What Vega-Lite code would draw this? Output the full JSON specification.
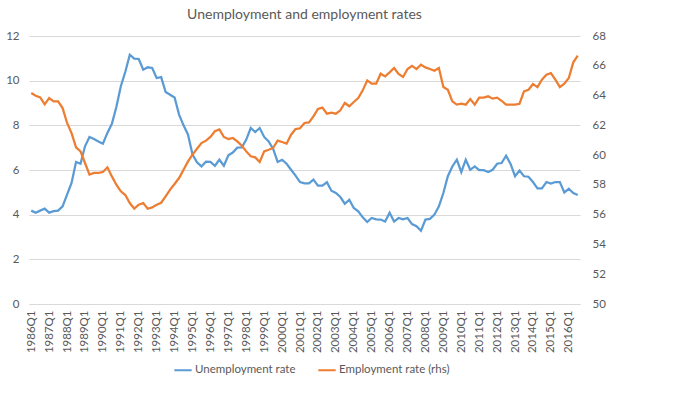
{
  "$schema": "https://vega.github.io/schema/vega-lite/v6.json",
  "width": 551,
  "height": 268,
  "autosize": {"type": "none"},
  "padding": {"left": 29, "top": 36, "right": 120, "bottom": 89},
  "background": "white",
  "title": {"text": "Unemployment and employment rates", "fontSize": 14, "font": "Lato", "fontWeight": "normal", "color": "#595959", "offset": 8, "anchor": "middle"},
  "config": {"view": {"stroke": null}, "font": "Lato"},
  "data": {"values": [
    {"q":"1986Q1","u":4.18,"e":64.17},{"q":"1986Q2","u":4.09,"e":63.99},{"q":"1986Q3","u":4.18,"e":63.88},{"q":"1986Q4","u":4.27,"e":63.41},
    {"q":"1987Q1","u":4.09,"e":63.83},{"q":"1987Q2","u":4.16,"e":63.61},{"q":"1987Q3","u":4.18,"e":63.61},{"q":"1987Q4","u":4.37,"e":63.16},
    {"q":"1988Q1","u":4.9,"e":62.16},{"q":"1988Q2","u":5.42,"e":61.48},{"q":"1988Q3","u":6.36,"e":60.52},{"q":"1988Q4","u":6.28,"e":60.25},
    {"q":"1989Q1","u":7.06,"e":59.47},{"q":"1989Q2","u":7.48,"e":58.69},{"q":"1989Q3","u":7.39,"e":58.8},{"q":"1989Q4","u":7.28,"e":58.8},
    {"q":"1990Q1","u":7.18,"e":58.87},{"q":"1990Q2","u":7.66,"e":59.18},{"q":"1990Q3","u":8.07,"e":58.57},{"q":"1990Q4","u":8.82,"e":58.01},
    {"q":"1991Q1","u":9.75,"e":57.57},{"q":"1991Q2","u":10.4,"e":57.32},{"q":"1991Q3","u":11.16,"e":56.78},{"q":"1991Q4","u":10.99,"e":56.4},
    {"q":"1992Q1","u":10.97,"e":56.67},{"q":"1992Q2","u":10.49,"e":56.78},{"q":"1992Q3","u":10.6,"e":56.4},{"q":"1992Q4","u":10.57,"e":56.49},
    {"q":"1993Q1","u":10.12,"e":56.67},{"q":"1993Q2","u":10.16,"e":56.8},{"q":"1993Q3","u":9.49,"e":57.23},{"q":"1993Q4","u":9.37,"e":57.68},
    {"q":"1994Q1","u":9.25,"e":58.06},{"q":"1994Q2","u":8.48,"e":58.46},{"q":"1994Q3","u":8.0,"e":59.02},{"q":"1994Q4","u":7.58,"e":59.58},
    {"q":"1995Q1","u":6.69,"e":60.03},{"q":"1995Q2","u":6.34,"e":60.43},{"q":"1995Q3","u":6.16,"e":60.81},{"q":"1995Q4","u":6.37,"e":60.97},
    {"q":"1996Q1","u":6.36,"e":61.22},{"q":"1996Q2","u":6.19,"e":61.6},{"q":"1996Q3","u":6.46,"e":61.73},{"q":"1996Q4","u":6.19,"e":61.22},
    {"q":"1997Q1","u":6.66,"e":61.08},{"q":"1997Q2","u":6.78,"e":61.15},{"q":"1997Q3","u":7.0,"e":60.92},{"q":"1997Q4","u":7.01,"e":60.63},
    {"q":"1998Q1","u":7.36,"e":60.25},{"q":"1998Q2","u":7.88,"e":59.92},{"q":"1998Q3","u":7.7,"e":59.85},{"q":"1998Q4","u":7.88,"e":59.54},
    {"q":"1999Q1","u":7.48,"e":60.25},{"q":"1999Q2","u":7.28,"e":60.36},{"q":"1999Q3","u":6.94,"e":60.48},{"q":"1999Q4","u":6.36,"e":60.97},
    {"q":"2000Q1","u":6.46,"e":60.88},{"q":"2000Q2","u":6.28,"e":60.77},{"q":"2000Q3","u":6.01,"e":61.37},{"q":"2000Q4","u":5.75,"e":61.75},
    {"q":"2001Q1","u":5.46,"e":61.8},{"q":"2001Q2","u":5.4,"e":62.16},{"q":"2001Q3","u":5.4,"e":62.2},{"q":"2001Q4","u":5.57,"e":62.6},
    {"q":"2002Q1","u":5.3,"e":63.1},{"q":"2002Q2","u":5.3,"e":63.19},{"q":"2002Q3","u":5.45,"e":62.78},{"q":"2002Q4","u":5.07,"e":62.85},
    {"q":"2003Q1","u":4.97,"e":62.78},{"q":"2003Q2","u":4.79,"e":63.01},{"q":"2003Q3","u":4.49,"e":63.5},{"q":"2003Q4","u":4.67,"e":63.28},
    {"q":"2004Q1","u":4.3,"e":63.57},{"q":"2004Q2","u":4.15,"e":63.83},{"q":"2004Q3","u":3.88,"e":64.35},{"q":"2004Q4","u":3.67,"e":65.02},
    {"q":"2005Q1","u":3.85,"e":64.8},{"q":"2005Q2","u":3.79,"e":64.8},{"q":"2005Q3","u":3.78,"e":65.47},{"q":"2005Q4","u":3.69,"e":65.29},
    {"q":"2006Q1","u":4.09,"e":65.56},{"q":"2006Q2","u":3.69,"e":65.85},{"q":"2006Q3","u":3.85,"e":65.45},{"q":"2006Q4","u":3.79,"e":65.25},
    {"q":"2007Q1","u":3.85,"e":65.78},{"q":"2007Q2","u":3.58,"e":66.0},{"q":"2007Q3","u":3.48,"e":65.78},{"q":"2007Q4","u":3.28,"e":66.07},
    {"q":"2008Q1","u":3.78,"e":65.89},{"q":"2008Q2","u":3.81,"e":65.78},{"q":"2008Q3","u":4.0,"e":65.67},{"q":"2008Q4","u":4.37,"e":65.85},
    {"q":"2009Q1","u":4.97,"e":64.57},{"q":"2009Q2","u":5.72,"e":64.39},{"q":"2009Q3","u":6.16,"e":63.61},{"q":"2009Q4","u":6.46,"e":63.39},
    {"q":"2010Q1","u":5.9,"e":63.45},{"q":"2010Q2","u":6.46,"e":63.39},{"q":"2010Q3","u":6.01,"e":63.77},{"q":"2010Q4","u":6.16,"e":63.39},
    {"q":"2011Q1","u":5.99,"e":63.86},{"q":"2011Q2","u":5.99,"e":63.86},{"q":"2011Q3","u":5.91,"e":63.95},{"q":"2011Q4","u":6.01,"e":63.79},
    {"q":"2012Q1","u":6.28,"e":63.86},{"q":"2012Q2","u":6.31,"e":63.65},{"q":"2012Q3","u":6.64,"e":63.39},{"q":"2012Q4","u":6.27,"e":63.39},
    {"q":"2013Q1","u":5.72,"e":63.39},{"q":"2013Q2","u":5.97,"e":63.45},{"q":"2013Q3","u":5.72,"e":64.28},{"q":"2013Q4","u":5.7,"e":64.39},
    {"q":"2014Q1","u":5.46,"e":64.78},{"q":"2014Q2","u":5.18,"e":64.57},{"q":"2014Q3","u":5.18,"e":65.07},{"q":"2014Q4","u":5.46,"e":65.4},
    {"q":"2015Q1","u":5.39,"e":65.51},{"q":"2015Q2","u":5.46,"e":65.07},{"q":"2015Q3","u":5.46,"e":64.57},{"q":"2015Q4","u":5.0,"e":64.8},
    {"q":"2016Q1","u":5.16,"e":65.18},{"q":"2016Q2","u":4.97,"e":66.23},{"q":"2016Q3","u":4.88,"e":66.68}
  ]},
  "encoding": {
    "x": {"field": "q", "type": "ordinal", "sort": null, "title": null,
      "axis": {"labelAngle": 270, "labelExpr": "indexof(datum.label, 'Q1') >= 0 ? datum.label : ''", "ticks": false, "domainColor": "#d9d9d9", "labelColor": "#595959", "labelFontSize": 11.5, "labelPadding": 6, "grid": false}}
  },
  "layer": [
    {
      "mark": {"type": "line", "strokeWidth": 2.25},
      "encoding": {
        "y": {"field": "u", "type": "quantitative", "title": null, "scale": {"domain": [0, 12], "nice": false, "zero": false},
          "axis": {"values": [0, 2, 4, 6, 8, 10, 12], "domain": false, "ticks": false, "gridColor": "#d9d9d9", "labelColor": "#595959", "labelFontSize": 11.5, "labelPadding": 10}},
        "color": {"datum": "Unemployment rate", "scale": {"domain": ["Unemployment rate", "Employment rate (rhs)"], "range": ["#5B9BD5", "#ED7D31"]},
          "legend": {"title": null, "orient": "none", "legendX": 144, "legendY": 324, "direction": "horizontal", "symbolType": "stroke", "symbolStrokeWidth": 2, "symbolSize": 300, "labelFontSize": 11.5, "labelColor": "#595959", "columnPadding": 18, "labelOffset": 2}}
      }
    },
    {
      "mark": {"type": "line", "strokeWidth": 2.25},
      "encoding": {
        "y": {"field": "e", "type": "quantitative", "title": null, "scale": {"domain": [50, 68], "nice": false, "zero": false},
          "axis": {"orient": "right", "values": [50, 52, 54, 56, 58, 60, 62, 64, 66, 68], "domain": false, "ticks": false, "grid": false, "labelColor": "#595959", "labelFontSize": 11.5, "labelPadding": 12}},
        "color": {"datum": "Employment rate (rhs)"}
      }
    }
  ],
  "resolve": {"scale": {"y": "independent"}}
}
